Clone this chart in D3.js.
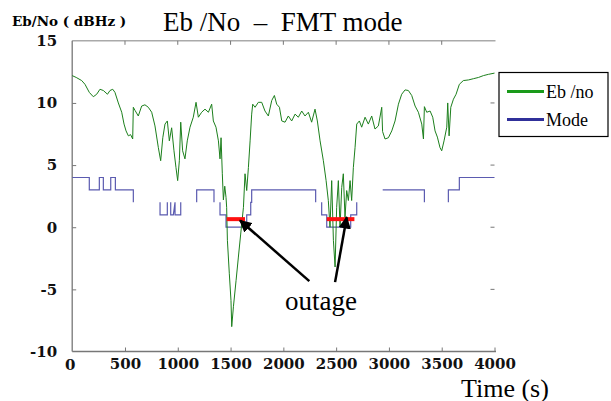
<!DOCTYPE html>
<html><head><meta charset="utf-8">
<script src="https://cdn.jsdelivr.net/npm/d3@7"></script>
<style>
html,body{margin:0;padding:0;background:#fff;}
svg{display:block;}
svg text{font-family:"Liberation Serif","Times New Roman",serif;}
</style></head>
<body><svg id="c" width="611" height="401"></svg>
<script>
const ebTime = [0,38,90,121,162,200,232,263,295,334,358,384,405,437,469,491,510,532,553,573,579,595,626,658,689,721,753,784,816,838,858,879,901,920,942,964,983,999,1015,1028,1046,1068,1090,1116,1147,1173,1195,1226,1258,1290,1321,1337,1362,1385,1400,1410,1422,1432,1445,1457,1463,1470,1488,1504,1511,1527,1552,1574,1596,1622,1637,1653,1669,1685,1700,1710,1732,1763,1795,1826,1858,1890,1915,1937,1963,1985,2016,2047,2079,2111,2142,2174,2205,2237,2268,2300,2322,2348,2379,2405,2426,2442,2458,2474,2490,2505,2521,2537,2553,2568,2584,2600,2616,2632,2647,2663,2679,2695,2720,2742,2774,2805,2837,2868,2900,2932,2940,2963,2995,3027,3058,3090,3121,3153,3184,3216,3248,3279,3311,3327,3336,3358,3390,3415,3437,3459,3484,3500,3522,3548,3557,3570,3586,3611,3636,3667,3705,3753,3800,3848,3895,3942,4000];
const ebValue = [12.2,12.05,11.8,11.5,10.85,10.5,10.7,11.1,11.0,10.7,11.0,11.1,10.85,10.0,9.25,8.3,7.75,7.35,7.45,7.1,9.65,9.4,8.95,9.75,9.85,9.65,9.25,8.15,6.4,5.35,7.2,8.3,8.55,6.95,8.0,6.15,4.8,3.75,5.35,8.45,6.15,5.5,6.95,8.05,8.85,10.05,8.85,9.25,9.5,9.25,9.9,8.55,8.05,6.95,5.5,7.2,4.3,2.2,3.3,2.4,1.6,-1.05,-3.7,-5.9,-8.0,-6.4,-4.3,-2.4,-0.55,1.6,4.3,2.95,4.8,6.95,9.1,9.9,9.65,10.05,10.05,9.35,8.95,10.2,10.6,9.9,9.65,8.55,8.45,8.95,8.55,9.1,8.85,9.35,8.95,9.25,8.45,9.5,8.55,6.95,5.35,3.75,2.15,0,3.75,-1.05,-3.2,1.6,3.75,0,3.2,4.3,0.8,2.95,2.15,3.75,2.15,4.8,6.4,8.3,8.55,8.05,8.85,8.3,8.95,7.9,8.15,9.65,7.7,7.1,7.2,7.75,8.55,9.9,10.7,11.05,11.0,10.6,9.75,9.25,8.3,7.1,9.7,9.25,9.35,8.85,7.75,7.25,6.4,6.15,6.95,8.05,10.0,7.35,9.65,10.3,10.7,11.5,11.8,11.85,11.95,12.05,12.2,12.3,12.4];

// mode step line (null = gap)
const modeTime  = [0,162,162,257,257,295,295,365,365,409,409,579,579,null, 832,832,901,901,null, 933,933,958,974,null, 974,974,1028,1028,null, 1179,1179,1343,1343,null, 1400,1400,1457,1457,1653,1653,1691,1691,1700,1700,2306,2306,null, 2363,2363,2411,2411,2638,2638,2695,2695,null, 2941,3336,3336,null, 3563,3563,3667,3667,4000];
const modeLevel = [4,4,3,3,4,4,3,3,4,4,3,3,2,null, 2,1,1,2,null, 2,1,1,2,null, 2,1,1,2,null, 2,3,3,2,null, 2,1,1,0,0,1,1,2,2,3,3,2,null, 2,1,1,0,0,1,1,2,null, 3,3,2,null, 2,3,3,4,4];

const outageStart = [1463, 2411];
const outageEnd   = [1637, 2673];
const outageLevel = [0.65, 0.65];

const xTicks = [0,500,1000,1500,2000,2500,3000,3500,4000];
const yTicks = [-10,-5,0,5,10,15];
const legendLabels = ["Eb /no", "Mode"];

// annotation arrows in data coords
const arrowTail = [[2246,-4.34],[2490,-4.42]];
const arrowHead = [[1590,0.54],[2600,0.8]];

const svg = d3.select("#c");
const x = d3.scaleLinear().domain([0,4000]).range([72.2,494.5]);
const y = d3.scaleLinear().domain([-10,15]).range([351.5,40.8]);
const serif = "Liberation Serif";
const boldSerif = "DejaVu Serif";

const axisCol = "#777";
svg.append("line").attr("x1",x(0)).attr("x2",x(4000)+1).attr("y1",y(15)).attr("y2",y(15)).attr("stroke","#aaa").attr("stroke-width",1.5);

const gx = svg.append("g").attr("transform",`translate(0,${y(-10)})`)
  .call(d3.axisBottom(x).tickValues(xTicks).tickFormat(d=>String(d)).tickSize(-4).tickPadding(7).tickSizeOuter(0));
const gy = svg.append("g").attr("transform",`translate(${x(0)},0)`)
  .call(d3.axisLeft(y).tickValues(yTicks).tickFormat(d=>String(d)).tickSize(-4).tickPadding(15).tickSizeOuter(0));
[gx,gy].forEach(g=>{
  g.attr("font-family",boldSerif).attr("font-size",15);
  g.select(".domain").attr("stroke",axisCol).attr("stroke-width",1.3);
  g.selectAll(".tick line").attr("stroke",axisCol);
  g.selectAll(".tick text").style("font-family",boldSerif).attr("font-weight","bold").attr("font-size",15).attr("fill","#111");
});
gx.select(".domain").attr("d",`M${x(0)},0H${x(4000)+1.5}`);
gy.select(".domain").attr("d",`M0,${y(15)}V${y(-10)}`);
gx.selectAll(".tick").filter(d=>d===0).remove();
gy.selectAll(".tick").filter(d=>d===-10||d===15).select("line").remove();
svg.append("g").selectAll("line").data(xTicks.slice(1,-1)).join("line")
  .attr("x1",d=>x(d)).attr("x2",d=>x(d)).attr("y1",y(15)).attr("y2",y(15)+4).attr("stroke",axisCol);
svg.append("g").selectAll("line").data(yTicks.slice(1,-1)).join("line")
  .attr("x1",x(4000)-4).attr("x2",x(4000)).attr("y1",d=>y(d)).attr("y2",d=>y(d)).attr("stroke",axisCol);
svg.append("text").attr("x",x(0)-2).attr("y",y(-10)+18.5).attr("text-anchor","middle")
  .style("font-family",boldSerif).attr("font-weight","bold").attr("font-size",15).attr("fill","#111").text("0");

// mode line
const modePts = modeTime.map((t,i)=>({t, v:modeLevel[i]}));
svg.append("path").datum(modePts)
  .attr("d", d3.line().defined(d=>d.t!==null && d.v!==null).x(d=>x(d.t)).y(d=>y(d.v)))
  .attr("fill","none").attr("stroke","#5b5bb0").attr("stroke-width",1.2);

// Eb/No line
const ebPts = ebTime.map((t,i)=>({t, v:ebValue[i]}));
svg.append("path").datum(ebPts)
  .attr("d", d3.line().x(d=>x(d.t)).y(d=>y(d.v)))
  .attr("fill","none").attr("stroke","#1c7f1c").attr("stroke-width",1);

// outage bars
svg.append("g").selectAll("line").data(outageStart).join("line")
  .attr("x1",d=>x(d)).attr("x2",(d,i)=>x(outageEnd[i]))
  .attr("y1",(d,i)=>y(outageLevel[i])).attr("y2",(d,i)=>y(outageLevel[i]))
  .attr("stroke","#ff1010").attr("stroke-width",4);

// arrows
const defs = svg.append("defs");
defs.append("marker").attr("id","ah").attr("viewBox","0 0 10 10").attr("refX",9).attr("refY",5)
  .attr("markerWidth",5).attr("markerHeight",5).attr("orient","auto")
  .append("path").attr("d","M0,0L10,5L0,10z").attr("fill","#000");
svg.append("g").selectAll("line").data(arrowTail).join("line")
  .attr("x1",d=>x(d[0])).attr("y1",d=>y(d[1]))
  .attr("x2",(d,i)=>x(arrowHead[i][0])).attr("y2",(d,i)=>y(arrowHead[i][1]))
  .attr("stroke","#000").attr("stroke-width",2.5).attr("marker-end","url(#ah)");

svg.append("text").attr("x",x(2016)).attr("y",y(-6.7)).attr("font-family",serif).attr("font-size",27).attr("fill","#000").text("outage");

// titles
svg.append("text").attr("x",12).attr("y",26).style("font-family",boldSerif).attr("font-size",13.5).attr("font-weight","bold").attr("fill","#000")
  .style("white-space","pre").text("Eb/No ( dBHz )");
svg.append("text").attr("x",163).attr("y",30.5).attr("font-family",serif).attr("font-size",27).attr("fill","#000")
  .style("white-space","pre").text("Eb /No  \u2013  FMT mode");
svg.append("text").attr("x",461).attr("y",396.5).attr("font-family",serif).attr("font-size",26).attr("fill","#000").text("Time (s)");

// legend
const lg = svg.append("g");
lg.append("rect").attr("x",499).attr("y",72.5).attr("width",109).attr("height",64).attr("fill","#fff").attr("stroke","#000").attr("stroke-width",1.2);
const legCols = ["#1a9a1a","#30309a"];
const legY = [91.5,119.5];
legendLabels.forEach((lab,i)=>{
  lg.append("line").attr("x1",507).attr("x2",544).attr("y1",legY[i]).attr("y2",legY[i]).attr("stroke",legCols[i]).attr("stroke-width",3);
  lg.append("text").attr("x",546).attr("y",legY[i]+6).attr("font-family",serif).attr("font-size",18).attr("fill","#000").text(lab);
});
</script></body></html>
